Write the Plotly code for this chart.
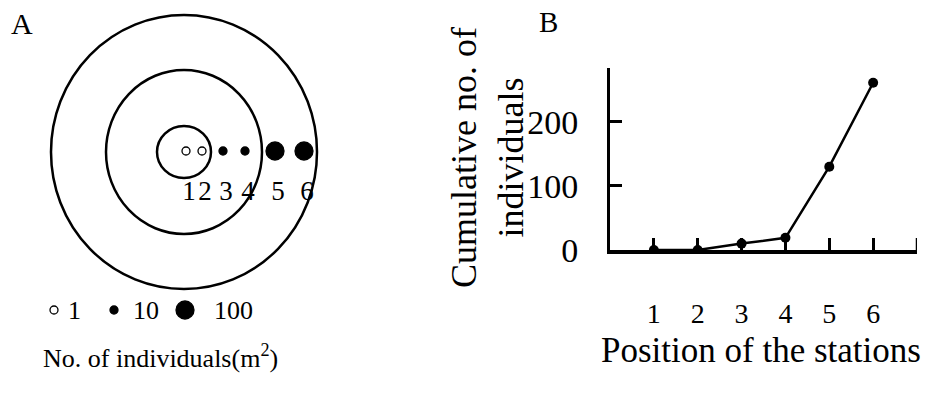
import plotly.graph_objects as go

# ---- Panel A: stations along a transect through the concentric zones ----
stations = ["1", "2", "3", "4", "5", "6"]
station_x = [186, 202, 223, 245, 275, 304]          # position along the transect (px units of panel A)
abundance_class = [1, 1, 10, 10, 100, 100]          # individuals per m2

legend_classes = [1, 10, 100]
legend_labels = ["1", "10", "100"]

# ---- Panel B: cumulative number of individuals per station ----
positions = [1, 2, 3, 4, 5, 6]
cumulative = [0, 0, 10, 19, 130, 261]
y_ticks = [0, 100, 200]

SERIF = "Liberation Serif, Times New Roman, serif"
BLACK = "#000000"

size_of = {1: 8, 10: 8, 100: 18}
fill_of = {1: "white", 10: BLACK, 100: BLACK}

fig = go.Figure()

# zone circles (panel A)
cx, cy = 184, 152
for rx, ry in [(133, 137), (78, 82), (27, 26)]:
    fig.add_shape(type="circle", xref="x", yref="y",
                  x0=cx - rx, x1=cx + rx, y0=cy - ry, y1=cy + ry,
                  line=dict(color=BLACK, width=2.5), fillcolor="rgba(0,0,0,0)")

# station markers
fig.add_trace(go.Scatter(
    x=station_x, y=[151] * len(station_x), mode="markers",
    marker=dict(size=[size_of[a] for a in abundance_class],
                color=[fill_of[a] for a in abundance_class],
                opacity=1,
                line=dict(color=BLACK, width=1.3)),
    xaxis="x", yaxis="y", showlegend=False, hoverinfo="skip"))

# station numbers
fig.add_trace(go.Scatter(
    x=[v + 3 for v in station_x], y=[193] * len(station_x), mode="text",
    text=stations, textfont=dict(family=SERIF, size=27, color=BLACK),
    xaxis="x", yaxis="y", showlegend=False, hoverinfo="skip"))

# abundance key
key_x = [54, 114, 185]
key_text_x = [68, 133, 214]
fig.add_trace(go.Scatter(
    x=key_x, y=[310] * 3, mode="markers",
    marker=dict(size=[size_of[c] for c in legend_classes],
                color=[fill_of[c] for c in legend_classes],
                opacity=1,
                line=dict(color=BLACK, width=1.3)),
    xaxis="x", yaxis="y", showlegend=False, hoverinfo="skip"))
fig.add_trace(go.Scatter(
    x=key_text_x, y=[312] * 3, mode="text",
    text=legend_labels, textposition="middle right",
    textfont=dict(family=SERIF, size=26, color=BLACK),
    xaxis="x", yaxis="y", showlegend=False, hoverinfo="skip"))

# ---- Panel B line ----
fig.add_trace(go.Scatter(
    x=positions, y=cumulative, mode="lines+markers",
    line=dict(color=BLACK, width=2.5),
    marker=dict(size=10, color=BLACK),
    xaxis="x2", yaxis="y2", showlegend=False, hoverinfo="skip"))

W, H = 934, 398
fig.update_layout(
    width=W, height=H, autosize=False,
    margin=dict(l=0, r=0, t=0, b=0, pad=0, autoexpand=False),
    showlegend=False,
    paper_bgcolor="white", plot_bgcolor="rgba(0,0,0,0)",
    xaxis=dict(domain=[0, 1], range=[0, W], visible=False, fixedrange=True,
               automargin=False),
    yaxis=dict(domain=[0, 1], range=[H, 0], visible=False, fixedrange=True,
               automargin=False),
    xaxis2=dict(domain=[610 / W, 917 / W], range=[0, 7], anchor="y2",
                automargin=False,
                showline=True, linecolor=BLACK, linewidth=3.5,
                ticks="inside", ticklen=12, tickwidth=2.5, tickcolor=BLACK,
                tickvals=[1, 2, 3, 4, 5, 6], ticktext=stations,
                ticklabelstandoff=36,
                tickfont=dict(family=SERIF, size=28, color=BLACK),
                showgrid=False, zeroline=False),
    yaxis2=dict(domain=[(H - 250) / H, (H - 68) / H], range=[0, 284], anchor="x2",
                automargin=False,
                showline=True, linecolor=BLACK, linewidth=3,
                ticks="inside", ticklen=12, tickwidth=2.5, tickcolor=BLACK,
                tickvals=y_ticks, ticktext=[str(v) for v in y_ticks],
                ticklabelstandoff=22,
                tickfont=dict(family=SERIF, size=34, color=BLACK),
                showgrid=False, zeroline=False),
)

# right-end tick of the x axis (axis closes at position 7)
fig.add_shape(type="line", xref="x2", yref="y2", x0=7, x1=7, y0=0, y1=284 * 12 / 182,
              line=dict(color=BLACK, width=2.5))

annotations = [
    dict(text="A", x=22, y=23, font=dict(family=SERIF, size=30)),
    dict(text="B", x=548, y=22, font=dict(family=SERIF, size=29)),
    dict(text="No. of individuals(m<sup>2</sup>)", x=160, y=356,
         font=dict(family=SERIF, size=26)),
    dict(text="Position of the stations", x=761, y=350,
         font=dict(family=SERIF, size=35)),
    dict(text="Cumulative no. of<br>individuals", x=487, y=158, textangle=-90,
         font=dict(family=SERIF, size=36)),
]
for a in annotations:
    a.update(xref="x", yref="y", showarrow=False, xanchor="center", yanchor="middle")
    a["font"]["color"] = BLACK
fig.update_layout(annotations=annotations)

fig.write_html("out.html")
